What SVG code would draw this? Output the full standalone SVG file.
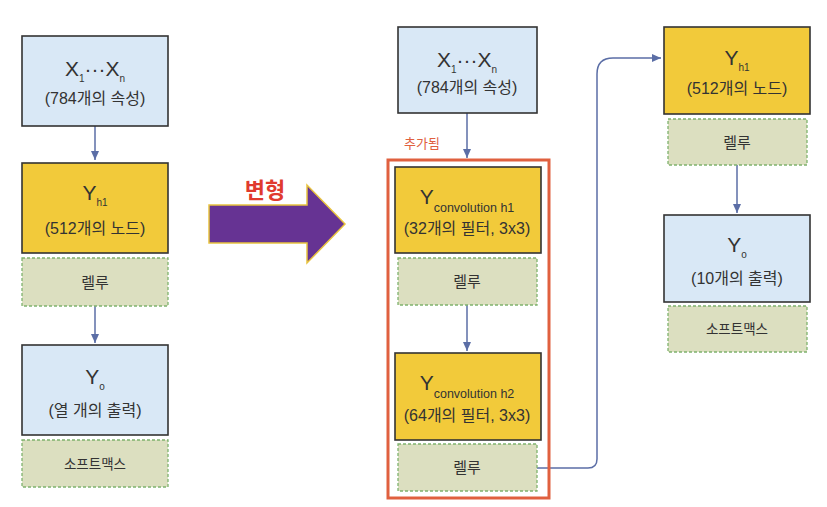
<svg xmlns="http://www.w3.org/2000/svg" width="827" height="507" viewBox="0 0 827 507">
<style>
text{font-family:"Liberation Sans","Noto Sans CJK KR",sans-serif;fill:#333;text-anchor:middle}
.blue{fill:#d9e8f6;stroke:#333;stroke-width:1.6}
.yel{fill:#f2ca3a;stroke:#333;stroke-width:1.6}
.act{fill:#dcdfc0;stroke:#7fb36e;stroke-width:1.3;stroke-dasharray:3 2}
.main{font-size:21px}
.sub{font-size:10px}
.csub{font-size:12.5px}
.kr{font-size:16px}
.lbl{font-size:15px}
.sm{font-size:13.5px}
.con{fill:none;stroke:#5b6ea6;stroke-width:1.5}
</style>
<defs>
<marker id="ah" markerWidth="10" markerHeight="10" refX="9" refY="5" orient="auto" markerUnits="userSpaceOnUse">
<path d="M0,1 L9,5 L0,9 Z" fill="#5b6ea6"/>
</marker>
</defs>
<g id="connectors">
<path class="con" d="M95,126 V160" marker-end="url(#ah)"/>
<path class="con" d="M95,306 V343" marker-end="url(#ah)"/>
<path class="con" d="M467,113 V158" marker-end="url(#ah)"/>
<path class="con" d="M467,305 V351" marker-end="url(#ah)"/>
<path class="con" d="M537,468 H588 Q597,468 597,459 V74 Q597,58 613,58 H661" marker-end="url(#ah)"/>
<path class="con" d="M737,165 V213" marker-end="url(#ah)"/>
</g>
<g id="transform-arrow">
<path d="M209,205 H307 V185 L345,224 L307,263 V243 H209 Z" fill="#663393" stroke="#e8c33f" stroke-width="1.5"/>
<text x="265" y="198" style="font-size:22px;font-weight:bold;fill:#e03a2e">변형</text>
</g>
<g id="left-x">
<rect class="blue" x="22" y="36" width="146" height="90"/>
<text x="95" y="76" class="main">X<tspan class="sub" dy="6">1</tspan><tspan dy="-6">···</tspan>X<tspan class="sub" dy="6">n</tspan></text>
<text x="95" y="104" class="kr">(784개의 속성)</text>
</g>
<g id="left-yh1">
<rect class="yel" x="22" y="163" width="146" height="90"/>
<text x="95" y="200" class="main">Y<tspan class="sub" dy="6">h1</tspan></text>
<text x="95" y="234" class="kr">(512개의 노드)</text>
</g>
<g id="left-relu">
<rect class="act" x="22" y="258" width="146" height="48"/>
<text x="95" y="288" class="lbl">렐루</text>
</g>
<g id="left-yo">
<rect class="blue" x="22" y="345" width="146" height="90"/>
<text x="95" y="384" class="main">Y<tspan class="sub" dy="6">o</tspan></text>
<text x="95" y="416" class="kr">(열 개의 출력)</text>
</g>
<g id="left-softmax">
<rect class="act" x="22" y="440" width="146" height="47"/>
<text x="95" y="469" class="sm">소프트맥스</text>
</g>
<g id="added-group">
<rect x="388" y="160" width="161" height="338" fill="none" stroke="#e0603f" stroke-width="3"/>
<text x="422" y="148" style="font-size:13px;fill:#e0603f">추가됨</text>
</g>
<g id="mid-x">
<rect class="blue" x="398" y="27" width="139" height="86"/>
<text x="467" y="67" class="main">X<tspan class="sub" dy="6">1</tspan><tspan dy="-6">···</tspan>X<tspan class="sub" dy="6">n</tspan></text>
<text x="467" y="93" class="kr">(784개의 속성)</text>
</g>
<g id="conv1">
<rect class="yel" x="395" y="167" width="146" height="86"/>
<text x="467" y="204" class="main">Y<tspan class="csub" dy="8">convolution h1</tspan></text>
<text x="467" y="234" class="kr">(32개의 필터, 3x3)</text>
</g>
<g id="conv1-relu">
<rect class="act" x="398" y="258" width="139" height="47"/>
<text x="467" y="287" class="lbl">렐루</text>
</g>
<g id="conv2">
<rect class="yel" x="395" y="353" width="146" height="87"/>
<text x="467" y="390" class="main">Y<tspan class="csub" dy="8">convolution h2</tspan></text>
<text x="467" y="421" class="kr">(64개의 필터, 3x3)</text>
</g>
<g id="conv2-relu">
<rect class="act" x="398" y="444" width="139" height="47"/>
<text x="467" y="473" class="lbl">렐루</text>
</g>
<g id="right-yh1">
<rect class="yel" x="664" y="27" width="146" height="87"/>
<text x="737" y="65" class="main">Y<tspan class="sub" dy="6">h1</tspan></text>
<text x="737" y="94" class="kr">(512개의 노드)</text>
</g>
<g id="right-relu">
<rect class="act" x="668" y="119" width="139" height="46"/>
<text x="737" y="148" class="lbl">렐루</text>
</g>
<g id="right-yo">
<rect class="blue" x="664" y="215" width="146" height="87"/>
<text x="737" y="252" class="main">Y<tspan class="sub" dy="6">o</tspan></text>
<text x="737" y="284" class="kr">(10개의 출력)</text>
</g>
<g id="right-softmax">
<rect class="act" x="668" y="306" width="139" height="46"/>
<text x="737" y="334" class="sm">소프트맥스</text>
</g>
</svg>
